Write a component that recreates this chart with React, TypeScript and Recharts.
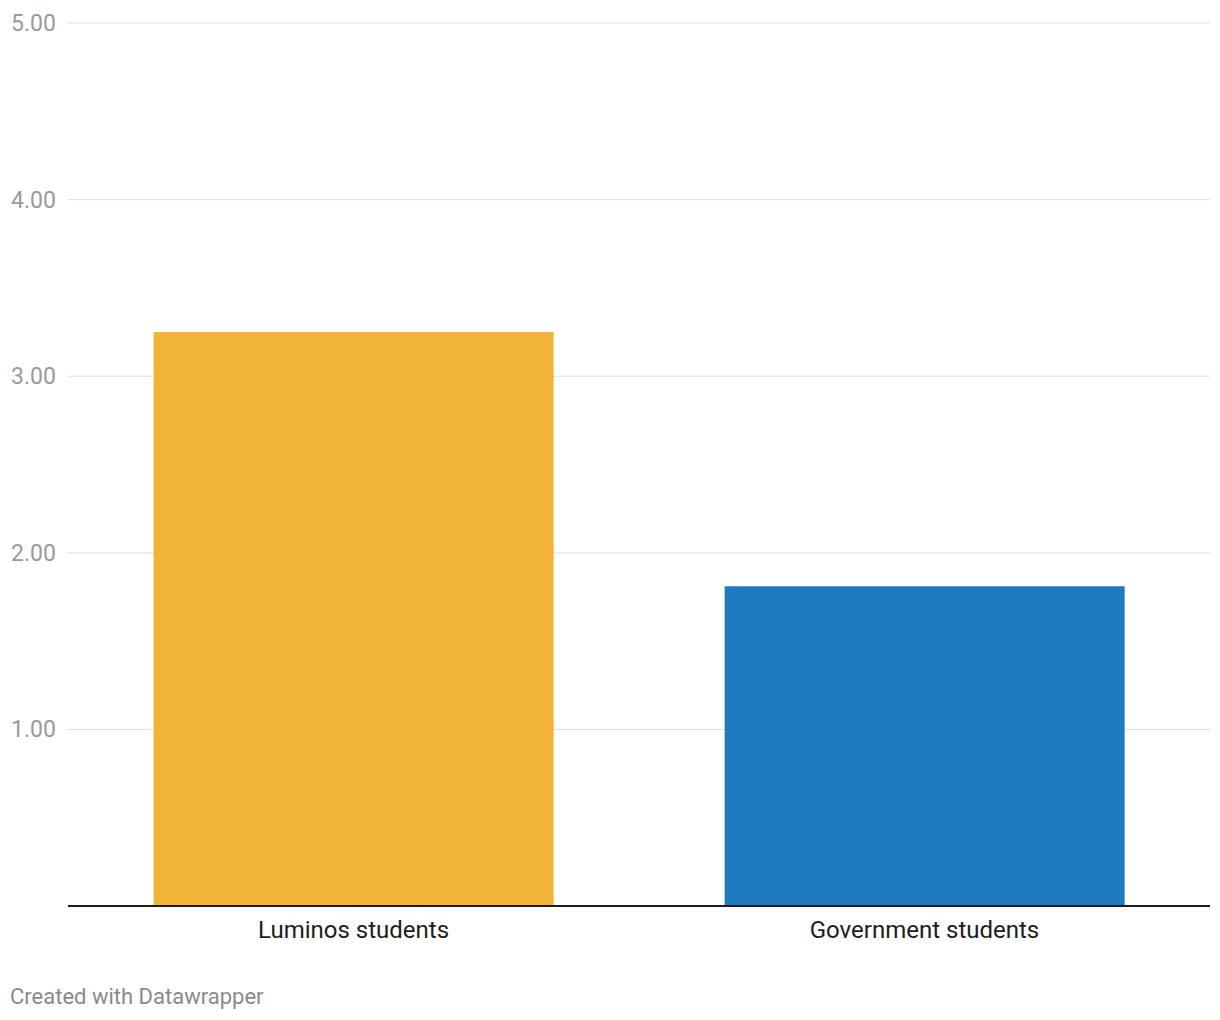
import React from "react";
import { BarChart, Bar, XAxis, YAxis, CartesianGrid, Cell } from "recharts";

const categories = ["Luminos students", "Government students"];
const values = [3.25, 1.81];
const barColors = ["#f1b436", "#1f7bc1"];
const yTicks = [1, 2, 3, 4, 5];

const data = categories.map((name, i) => ({ name, value: values[i] }));

const YTick = (props: any) => {
  const { y, payload } = props;
  return (
    <text x={11} y={y} dy={8} textAnchor="start" fill="#9a9a9a" fontSize={23} fontFamily="Roboto">
      {Number(payload.value).toFixed(2)}
    </text>
  );
};

const XTick = (props: any) => {
  const { x, y, payload } = props;
  return (
    <text x={x} y={y} dy={24} textAnchor="middle" fill="#1d1d1d" fontSize={24} fontFamily="Roboto">
      {payload.value}
    </text>
  );
};

export default function App() {
  return (
    <div style={{ position: "absolute", left: 0, top: 0, width: 1220, height: 1020, background: "#fff", fontFamily: "Roboto" }}>
      <BarChart
        width={1220}
        height={960}
        data={data}
        margin={{ top: 23, right: 10, left: 10, bottom: 0 }}
        barCategoryGap="15%"
      >
        <CartesianGrid vertical={false} stroke="#dedede" strokeWidth={1} />
        <XAxis
          dataKey="name"
          axisLine={{ stroke: "#1d1d1d", strokeWidth: 2 }}
          tickLine={false}
          tick={<XTick />}
          height={54}
          interval={0}
        />
        <YAxis
          domain={[0, 5]}
          ticks={yTicks}
          axisLine={false}
          tickLine={false}
          width={58}
          tick={<YTick />}
        />
        <Bar dataKey="value" isAnimationActive={false}>
          {data.map((d, i) => (
            <Cell key={d.name} fill={barColors[i]} />
          ))}
        </Bar>
      </BarChart>
      <div style={{ position: "absolute", left: 10, top: 984, fontSize: 22, color: "#8a8a8a", fontFamily: "Roboto", lineHeight: "26px" }}>
        Created with Datawrapper
      </div>
    </div>
  );
}
